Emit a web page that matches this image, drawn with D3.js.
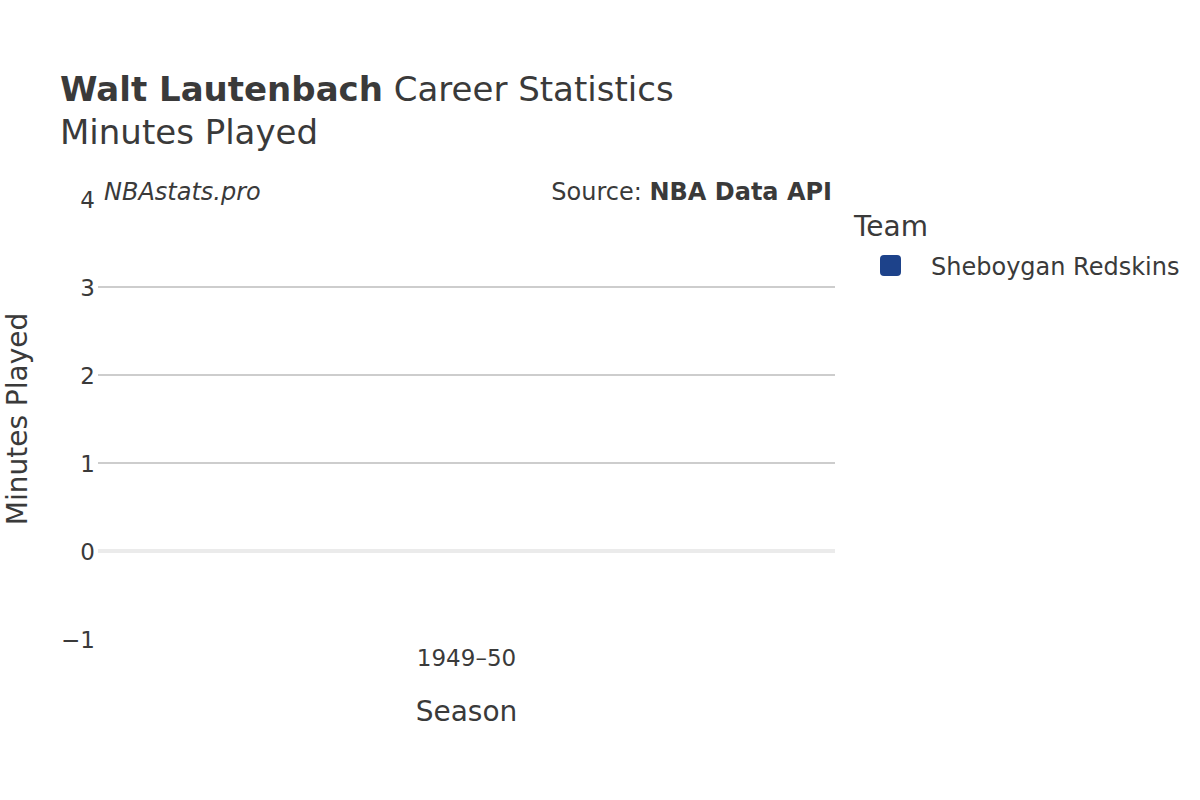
<!DOCTYPE html>
<html>
<head>
<meta charset="utf-8">
<script src="https://cdn.jsdelivr.net/npm/d3@7"></script>
<style>
body{margin:0;background:#fff;}
svg{font-family:"DejaVu Sans",sans-serif;}
</style>
</head>
<body>
<svg id="chart" width="1200" height="800"></svg>
<script>
const seasons = ["1949–50"];
const teams = ["Sheboygan Redskins"];
const minutesPlayed = [0];
const teamColors = ["#1d428a"];
const yTicks = [-1, 0, 1, 2, 3, 4];

const svg = d3.select("#chart");
const W = 1200, H = 800;
svg.append("rect").attr("width", W).attr("height", H).attr("fill", "#fff");

const m = {left: 98, right: 835, top: 199, bottom: 639};
const x = d3.scaleBand().domain(seasons).range([m.left, m.right]).padding(0.2);
const y = d3.scaleLinear().domain([-1, 4]).range([m.bottom, m.top]);

// grid
const grid = svg.append("g");
grid.selectAll("line").data(yTicks.filter(t => t !== 0 && t !== -1 && t !== 4)).enter().append("line")
  .attr("x1", m.left).attr("x2", m.right)
  .attr("y1", d => y(d)).attr("y2", d => y(d))
  .attr("stroke", "#bdbdbd").attr("stroke-width", 1.5);
// zero line
svg.append("line").attr("x1", m.left).attr("x2", m.right)
  .attr("y1", y(0)).attr("y2", y(0))
  .attr("stroke", "#ebebeb").attr("stroke-width", 4);

// bars
svg.append("g").selectAll("rect").data(seasons).enter().append("rect")
  .attr("x", d => x(d))
  .attr("width", x.bandwidth())
  .attr("y", (d, i) => y(Math.max(0, minutesPlayed[i])))
  .attr("height", (d, i) => Math.abs(y(minutesPlayed[i]) - y(0)))
  .attr("fill", teamColors[0]);

// y axis
const yAxis = d3.axisLeft(y).tickValues(yTicks).tickSize(0).tickPadding(3)
  .tickFormat(d => d < 0 ? "\u2212" + Math.abs(d) : d);
const gy = svg.append("g").attr("transform", `translate(${m.left},0)`).call(yAxis);
gy.select(".domain").remove();
gy.selectAll("text").attr("font-size", 23).attr("fill", "#3a3a3a")
  .attr("font-family", "DejaVu Sans").attr("dy", "0.35em");

// x axis
const xAxis = d3.axisBottom(x).tickSize(0).tickPadding(0);
const gx = svg.append("g").attr("transform", `translate(0,${m.bottom + 5})`).call(xAxis);
gx.select(".domain").remove();
gx.selectAll("text").attr("font-size", 23).attr("fill", "#3a3a3a")
  .attr("font-family", "DejaVu Sans").attr("dy", "0.95em");

// titles
const title = svg.append("text").attr("x", 60).attr("y", 101).attr("font-size", 34).attr("fill", "#3a3a3a");
title.append("tspan").attr("font-weight", "bold").text("Walt Lautenbach");
title.append("tspan").text(" Career Statistics");
svg.append("text").attr("x", 60).attr("y", 144).attr("font-size", 34).attr("fill", "#3a3a3a").text("Minutes Played");

// axis titles
svg.append("text").attr("transform", "translate(27,419) rotate(-90)").attr("text-anchor", "middle")
  .attr("font-size", 28).attr("fill", "#3a3a3a").text("Minutes Played");
svg.append("text").attr("x", (m.left + m.right) / 2).attr("y", 721).attr("text-anchor", "middle")
  .attr("font-size", 28).attr("fill", "#3a3a3a").text("Season");

// watermark & source
svg.append("text").attr("x", 104).attr("y", 200).attr("font-size", 24).attr("font-style", "italic")
  .attr("fill", "#3a3a3a").text("NBAstats.pro");
const src = svg.append("text").attr("x", 832).attr("y", 200).attr("text-anchor", "end")
  .attr("font-size", 24).attr("fill", "#3a3a3a");
src.append("tspan").text("Source: ");
src.append("tspan").attr("font-weight", "bold").text("NBA Data API");

// legend
svg.append("text").attr("x", 854).attr("y", 236).attr("font-size", 28).attr("fill", "#3a3a3a").text("Team");
const leg = svg.append("g").selectAll("g").data(teams).enter().append("g")
  .attr("transform", (d, i) => `translate(0,${i * 30})`);
leg.append("rect").attr("x", 880).attr("y", 255).attr("width", 21).attr("height", 21)
  .attr("rx", 4).attr("fill", (d, i) => teamColors[i]);
leg.append("text").attr("x", 931).attr("y", 275).attr("font-size", 24).attr("fill", "#3a3a3a").text(d => d);
</script>
</body>
</html>
